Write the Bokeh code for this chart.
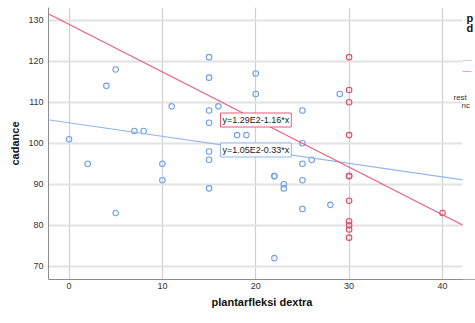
from bokeh.plotting import figure
from bokeh.models import ColumnDataSource, Slope, Label, FixedTicker, Range1d, BoxAnnotation, Title
from bokeh.embed import file_html
from bokeh.resources import INLINE

# plantarfleksi dextra vs cadance, two groups
blue_x = [0, 2, 4, 5, 5, 7, 8, 10, 10, 11, 15, 15, 15, 15, 15, 15, 15, 16, 18, 19,
          20, 20, 22, 22, 22, 23, 23, 25, 25, 25, 25, 25, 26, 28, 29]
blue_y = [101, 95, 114, 118, 83, 103, 103, 95, 91, 109, 121, 116, 108, 105, 98, 96, 89, 109, 102, 102,
          117, 112, 92, 92, 72, 90, 89, 108, 100, 95, 91, 84, 96, 85, 112]
red_x = [30, 30, 30, 30, 30, 30, 30, 30, 30, 30, 30, 40]
red_y = [121, 113, 110, 102, 92, 92, 86, 81, 80, 79, 77, 83]

# fit lines: intercept, slope
blue_fit = (105.0, -0.33)
red_fit = (129.0, -1.16)
blue_fit_text = "y=1.05E2-0.33*x"
red_fit_text = "y=1.29E2-1.16*x"

x_ticks = [0, 10, 20, 30, 40]
y_ticks = [70, 80, 90, 100, 110, 120, 130]

BLUE = "#6d9fe3"
RED = "#dc4a6a"
BLUE_LINE = "#8fb6ee"
RED_LINE = "#e65d7c"
FONT = "Liberation Sans"

# data area ends at X_END; the strip to its right holds the legend
X_END = 42.15
p = figure(width=475, height=323, output_backend="svg", toolbar_location=None,
           x_range=Range1d(-2.2, 43.54), y_range=Range1d(66.8, 133.1),
           min_border_left=48, min_border_right=0, min_border_top=7, min_border_bottom=44)
p.outline_line_color = None
p.background_fill_color = "white"

for ax in (p.xaxis, p.yaxis):
    ax.axis_line_color = "#8c8c8c"
    ax.major_tick_line_color = None
    ax.minor_tick_line_color = None
    ax.major_tick_out = 0
    ax.major_tick_in = 0
    ax.minor_tick_out = 0
    ax.major_label_text_font = FONT
    ax.major_label_text_font_size = "9px"
    ax.major_label_text_color = "#333333"
    ax.axis_label_text_font = FONT
    ax.axis_label_text_font_style = "bold"
    ax.axis_label_text_font_size = "11px"
    ax.axis_label_text_color = "#111111"

p.xaxis.ticker = FixedTicker(ticks=x_ticks)
p.yaxis.ticker = FixedTicker(ticks=y_ticks)
p.yaxis.axis_label = "cadance"
p.xaxis.major_label_standoff = 3
p.yaxis.major_label_standoff = 5
p.yaxis.axis_label_standoff = 4

# x title, centred under the data area rather than the whole frame
p.add_layout(Title(text="plantarfleksi dextra", align="center", offset=-6.5, standoff=5,
                   text_font=FONT, text_font_size="11px", text_font_style="bold",
                   text_color="#111111"), "below")

p.xgrid.grid_line_color = "#cfcfcf"
p.xgrid.grid_line_width = 1.2
p.ygrid.grid_line_color = "#e2e2e2"
p.ygrid.grid_line_width = 2

# regression lines
p.add_layout(Slope(gradient=blue_fit[1], y_intercept=blue_fit[0], line_color=BLUE_LINE, line_width=1.1))
p.add_layout(Slope(gradient=red_fit[1], y_intercept=red_fit[0], line_color=RED_LINE, line_width=1.1))

# observations
p.scatter(x="x", y="y", source=ColumnDataSource(dict(x=blue_x, y=blue_y)),
          marker="circle", size=5.5, fill_color=None, line_color=BLUE, line_width=1.1)
p.scatter(x="x", y="y", source=ColumnDataSource(dict(x=red_x, y=red_y)),
          marker="circle", size=5.5, fill_color=None, line_color=RED, line_width=1.1)

# blank legend strip
p.add_layout(BoxAnnotation(left=X_END, fill_color="white", fill_alpha=1.0, line_color=None))

# equation boxes (screen offsets from the frame's lower-left corner)
for txt, col, ypos in ((red_fit_text, RED_LINE, 159.5), (blue_fit_text, BLUE_LINE, 129.5)):
    p.add_layout(Label(x=172, y=ypos, x_units="screen", y_units="screen", text=txt,
                       text_font=FONT, text_font_size="9px", text_color="#222222",
                       text_baseline="middle", padding=2,
                       background_fill_color="white", border_line_color=col, border_line_width=1))

# legend at the right edge
for txt, ypos in (("p", 262), ("d", 252)):
    p.add_layout(Label(x=418, y=ypos, x_units="screen", y_units="screen", text=txt,
                       text_font=FONT, text_font_size="11px", text_font_style="bold",
                       text_color="#111111", text_baseline="middle"))
for col, ypos in ((BLUE_LINE, 220), (RED_LINE, 209)):
    p.add_layout(Label(x=414, y=ypos, x_units="screen", y_units="screen", text="\u2014",
                       text_font=FONT, text_font_size="9px", text_color=col, text_baseline="middle"))
for txt, xpos, ypos in (("rest", 405, 182), ("nc", 413, 174)):
    p.add_layout(Label(x=xpos, y=ypos, x_units="screen", y_units="screen", text=txt,
                       text_font=FONT, text_font_size="8px", text_color="#333333",
                       text_baseline="middle"))

open("out.html", "w").write(file_html(p, INLINE))
